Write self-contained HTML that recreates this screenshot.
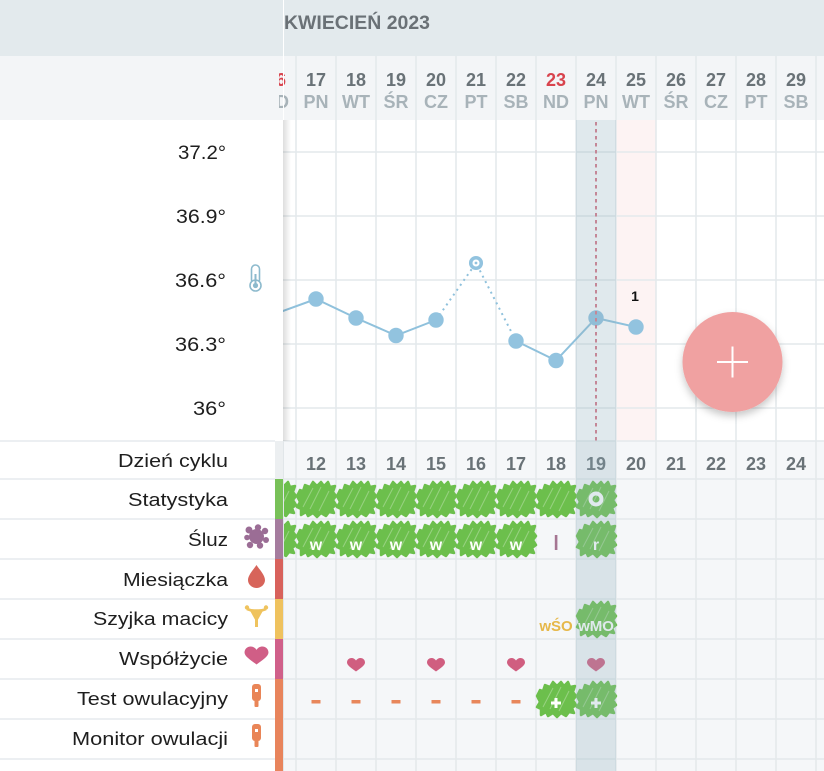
<!DOCTYPE html>
<html><head><meta charset="utf-8">
<style>
html,body{margin:0;padding:0;background:#f5f7f9;}
svg{display:block;font-family:"Liberation Sans",Arial,sans-serif;}
</style></head><body>
<svg width="824" height="771" viewBox="0 0 824 771" xmlns="http://www.w3.org/2000/svg">
<defs>
 <path id="blobp" d="M-19,-3 L-16,-9 L-13,-8 L-11,-14 L-6,-12 L-3,-17 L1,-13 L5,-17 L8,-13 L12,-17 L14,-12 L19,-13 L17,-7 L20,-3 L17,1 L20,6 L16,9 L18,14 L13,13 L10,17 L5,14 L1,18 L-3,14 L-8,17 L-10,13 L-15,16 L-15,10 L-19,8 L-16,3 Z"/>
 <g id="bl">
  <use href="#blobp" fill="#6cbf4c" stroke="#6cbf4c" stroke-width="2.5" stroke-linejoin="round"/>
  <path d="M-13,8 L-3,-11 M-6,10 L5,-12 M3,12 L13,-8" stroke="#ffffff" stroke-opacity=".3" stroke-width="1" fill="none"/>
 </g>
 <path id="heart" d="M0,6 C-4,3 -9,0 -9,-3 C-9,-6 -6.5,-7.5 -4.5,-7.5 C-2.5,-7.5 -1,-6.5 0,-5 C1,-6.5 2.5,-7.5 4.5,-7.5 C6.5,-7.5 9,-6 9,-3 C9,0 4,3 0,6 Z"/>
 <linearGradient id="sh" x1="0" x2="1" y1="0" y2="0">
  <stop offset="0" stop-color="#000" stop-opacity=".13"/>
  <stop offset="1" stop-color="#000" stop-opacity="0"/>
 </linearGradient>
 <filter id="fs" x="-40%" y="-40%" width="180%" height="190%">
  <feDropShadow dx="0" dy="4" stdDeviation="4" flood-color="#000" flood-opacity=".22"/>
 </filter>
</defs>

<!-- backgrounds -->
<rect x="0" y="0" width="824" height="771" fill="#f5f7f9"/>
<rect x="0" y="0" width="824" height="56" fill="#e3eaed"/>
<rect x="0" y="56" width="824" height="64" fill="#f3f5f7"/>
<rect x="283" y="120" width="541" height="321" fill="#ffffff"/>
<rect x="616" y="120" width="40" height="321" fill="#fdf3f3"/>

<!-- grid -->
<g stroke="#e4e9ec" stroke-width="1.6">
 <path d="M296,56V771 M336,56V771 M376,56V771 M416,56V771 M456,56V771 M496,56V771 M536,56V771 M576,56V771 M616,56V771 M656,56V771 M696,56V771 M736,56V771 M776,56V771 M816,56V771"/>
 <path d="M283,152H824 M283,216H824 M283,280H824 M283,344H824 M283,408H824"/>
 <path d="M283,441H824 M283,479H824 M283,519H824 M283,559H824 M283,599H824 M283,639H824 M283,679H824 M283,719H824 M283,759H824"/>
</g>

<!-- month title -->
<text x="284" y="29" font-size="19" font-weight="bold" fill="#6a7176" textLength="146" lengthAdjust="spacingAndGlyphs">KWIECIEŃ 2023</text>

<!-- day header -->
<g font-size="18" font-weight="bold" text-anchor="middle">
 <g fill="#697277">
  <text x="316" y="86">17</text><text x="356" y="86">18</text><text x="396" y="86">19</text>
  <text x="436" y="86">20</text><text x="476" y="86">21</text><text x="516" y="86">22</text>
  <text x="596" y="86">24</text><text x="636" y="86">25</text><text x="676" y="86">26</text>
  <text x="716" y="86">27</text><text x="756" y="86">28</text><text x="796" y="86">29</text>
 </g>
 <g fill="#d8434d">
  <text x="276" y="86">16</text><text x="556" y="86">23</text><text x="836" y="86">30</text>
 </g>
 <g fill="#a8b3b9">
  <text x="276" y="108">ND</text><text x="316" y="108">PN</text><text x="356" y="108">WT</text>
  <text x="396" y="108">ŚR</text><text x="436" y="108">CZ</text><text x="476" y="108">PT</text>
  <text x="516" y="108">SB</text><text x="556" y="108">ND</text><text x="596" y="108">PN</text>
  <text x="636" y="108">WT</text><text x="676" y="108">ŚR</text><text x="716" y="108">CZ</text>
  <text x="756" y="108">PT</text><text x="796" y="108">SB</text><text x="836" y="108">ND</text>
 </g>
</g>
<!-- cover for header left part -->
<rect x="0" y="56" width="279" height="64" fill="#f3f5f7"/>
<rect x="283" y="0" width="1" height="120" fill="#ffffff"/>

<!-- temperature line -->
<g stroke="#8fc1dc" stroke-width="2" fill="none">
 <polyline points="270,315.7 316,299 356,318 396,335.5 436,320"/>
 <polyline points="516,341 556,360.5 596,318 636,327"/>
 <polyline points="436,320 476,263 516,341" stroke-dasharray="2 4"/>
</g>
<g fill="#92c3df">
 <circle cx="316" cy="299" r="7.7"/>
 <circle cx="356" cy="318" r="7.7"/>
 <circle cx="396" cy="335.5" r="7.7"/>
 <circle cx="436" cy="320" r="7.7"/>
 <circle cx="516" cy="341" r="7.7"/>
 <circle cx="556" cy="360.5" r="7.7"/>
 <circle cx="596" cy="318" r="7.7"/>
 <circle cx="636" cy="327" r="7.7"/>
</g>
<circle cx="476" cy="263" r="5.3" fill="#fff" stroke="#92c3df" stroke-width="3.5"/>
<circle cx="476" cy="263" r="1.4" fill="#92c3df"/>

<!-- table content -->
<g>
 <!-- Statystyka row -->
 <use href="#bl" x="276" y="499"/><use href="#bl" x="316" y="499"/><use href="#bl" x="356" y="499"/>
 <use href="#bl" x="396" y="499"/><use href="#bl" x="436" y="499"/><use href="#bl" x="476" y="499"/>
 <use href="#bl" x="516" y="499"/><use href="#bl" x="556" y="499"/><use href="#bl" x="596" y="499"/>
 <circle cx="596" cy="499" r="5.5" fill="none" stroke="#ffffff" stroke-width="4"/>
 <!-- Sluz row -->
 <use href="#bl" x="276" y="539"/><use href="#bl" x="316" y="539"/><use href="#bl" x="356" y="539"/>
 <use href="#bl" x="396" y="539"/><use href="#bl" x="436" y="539"/><use href="#bl" x="476" y="539"/>
 <use href="#bl" x="516" y="539"/><use href="#bl" x="596" y="539"/>
 <g fill="#ffffff" font-size="16" font-weight="bold" text-anchor="middle">
  <text x="316" y="550">w</text><text x="356" y="550">w</text><text x="396" y="550">w</text>
  <text x="436" y="550">w</text><text x="476" y="550">w</text><text x="516" y="550">w</text>
  <text x="596" y="550">r</text>
 </g>
 <rect x="554.8" y="535" width="2.6" height="15" fill="#a57592"/>
 <!-- Szyjka row -->
 <use href="#bl" x="596" y="619"/>
 <text x="556" y="631" font-size="15" font-weight="bold" fill="#e6b84a" text-anchor="middle">wŚO</text>
 <text x="596" y="631" font-size="15" font-weight="bold" fill="#ffffff" text-anchor="middle">wMO</text>
 <!-- Wspolzycie row -->
 <g fill="#d05e80">
  <use href="#heart" x="356" y="665.5"/><use href="#heart" x="436" y="665.5"/>
  <use href="#heart" x="516" y="665.5"/><use href="#heart" x="596" y="665.5"/>
 </g>
 <!-- Test row -->
 <g fill="#e8875b">
  <rect x="311.5" y="700" width="9" height="3.5"/><rect x="351.5" y="700" width="9" height="3.5"/>
  <rect x="391.5" y="700" width="9" height="3.5"/><rect x="431.5" y="700" width="9" height="3.5"/>
  <rect x="471.5" y="700" width="9" height="3.5"/><rect x="511.5" y="700" width="9" height="3.5"/>
 </g>
 <use href="#bl" x="556" y="699"/><use href="#bl" x="596" y="699"/>
 <path d="M551,703H561 M556,698V708 M591,703H601 M596,698V708" stroke="#ffffff" stroke-width="3"/>
 <!-- cycle days -->
 <g font-size="18" font-weight="bold" fill="#697277" text-anchor="middle">
  <text x="316" y="470">12</text><text x="356" y="470">13</text><text x="396" y="470">14</text>
  <text x="436" y="470">15</text><text x="476" y="470">16</text><text x="516" y="470">17</text>
  <text x="556" y="470">18</text><text x="596" y="470">19</text><text x="636" y="470">20</text>
  <text x="676" y="470">21</text><text x="716" y="470">22</text><text x="756" y="470">23</text>
  <text x="796" y="470">24</text>
 </g>
</g>

<!-- shaded selected column -->
<rect x="576" y="120" width="40" height="651" fill="rgb(144,175,190)" fill-opacity=".28"/>
<path d="M596,122V441" stroke="#c48797" stroke-width="2" stroke-dasharray="3.5 3.5"/>
<text x="635" y="301" font-size="14" font-weight="bold" fill="#111" text-anchor="middle">1</text>

<!-- FAB -->
<circle cx="732.5" cy="362" r="50" fill="#f0a1a1" filter="url(#fs)"/>
<path d="M717,362H748 M732.5,346.5V377.5" stroke="#ffffff" stroke-width="2"/>

<!-- left panel -->
<rect x="0" y="120" width="283" height="321" fill="#ffffff"/>
<rect x="283" y="120" width="8" height="321" fill="url(#sh)"/>
<rect x="0" y="441" width="275" height="330" fill="#ffffff"/>
<g stroke="#e6eaed" stroke-width="1.6">
 <path d="M0,441H275 M0,479H275 M0,519H275 M0,559H275 M0,599H275 M0,639H275 M0,679H275 M0,719H275 M0,759H275"/>
</g>
<rect x="275" y="441" width="8" height="38" fill="#eceff1"/>
<rect x="275" y="479" width="8" height="40" fill="#78c158"/>
<rect x="275" y="519" width="8" height="40" fill="#a57c9e"/>
<rect x="275" y="559" width="8" height="40" fill="#d8625c"/>
<rect x="275" y="599" width="8" height="40" fill="#efc25e"/>
<rect x="275" y="639" width="8" height="40" fill="#d0608a"/>
<rect x="275" y="679" width="8" height="92" fill="#e8845c"/>
<rect x="283" y="441" width="1" height="330" fill="#e1e6e9"/>

<!-- y axis labels -->
<g font-size="19" fill="#1e1e1e">
 <text x="178" y="159" textLength="48" lengthAdjust="spacingAndGlyphs">37.2°</text>
 <text x="176" y="223" textLength="50" lengthAdjust="spacingAndGlyphs">36.9°</text>
 <text x="175" y="287" textLength="51" lengthAdjust="spacingAndGlyphs">36.6°</text>
 <text x="175" y="351" textLength="51" lengthAdjust="spacingAndGlyphs">36.3°</text>
 <text x="193" y="415" textLength="33" lengthAdjust="spacingAndGlyphs">36°</text>
</g>
<!-- thermometer -->
<rect x="251.5" y="265" width="8" height="19" rx="4" fill="#fff" stroke="#8dbacd" stroke-width="1.6"/>
<circle cx="255.5" cy="285.5" r="5.5" fill="#fff" stroke="#8dbacd" stroke-width="1.6"/>
<rect x="253.5" y="282" width="4" height="6" fill="#fff"/>
<circle cx="255.5" cy="285.5" r="2.6" fill="#8dbacd"/>
<rect x="254.5" y="274" width="2" height="10" fill="#8dbacd"/>

<!-- row labels -->
<g font-size="18.5" fill="#1e1e1e">
 <text x="118" y="467" textLength="110" lengthAdjust="spacingAndGlyphs">Dzień cyklu</text>
 <text x="128" y="506" textLength="100" lengthAdjust="spacingAndGlyphs">Statystyka</text>
 <text x="188" y="546" textLength="40" lengthAdjust="spacingAndGlyphs">Śluz</text>
 <text x="123" y="586" textLength="105" lengthAdjust="spacingAndGlyphs">Miesiączka</text>
 <text x="93" y="625" textLength="135" lengthAdjust="spacingAndGlyphs">Szyjka macicy</text>
 <text x="119" y="665" textLength="109" lengthAdjust="spacingAndGlyphs">Współżycie</text>
 <text x="77" y="705" textLength="151" lengthAdjust="spacingAndGlyphs">Test owulacyjny</text>
 <text x="72" y="745" textLength="156" lengthAdjust="spacingAndGlyphs">Monitor owulacji</text>
</g>

<!-- row icons -->
<g fill="#9b6d95">
 <circle cx="256.5" cy="536.5" r="7.5"/>
 <circle cx="249" cy="530" r="3.5"/><circle cx="258" cy="527.5" r="3.2"/><circle cx="265" cy="531" r="3.2"/>
 <circle cx="266" cy="540" r="3"/><circle cx="260" cy="545.5" r="3.2"/><circle cx="250" cy="545" r="3.2"/>
 <circle cx="247" cy="537.5" r="2.8"/>
</g>
<path d="M256.5,565 C254,569 248,575 248,580 C248,584.5 252,588 256.5,588 C261,588 265,584.5 265,580 C265,575 259,569 256.5,565 Z" fill="#d7645a"/>
<g fill="#efc35e" stroke="#efc35e">
 <path d="M247,609 Q256.5,613 266,609" fill="none" stroke-width="2.6"/>
 <circle cx="247" cy="607.5" r="2.2" stroke="none"/><circle cx="266" cy="607.5" r="2.2" stroke="none"/>
 <path d="M250.5,610 L262.5,610 L257.5,619 L255.5,619 Z" stroke-width="1.5" stroke-linejoin="round"/>
 <rect x="255" y="618" width="3" height="9" stroke="none"/>
</g>
<use href="#heart" x="256.5" y="656.5" fill="#d05e86" transform="translate(256.5 656.5) scale(1.33) translate(-256.5 -656.5)"/>
<g fill="#e98557">
 <rect x="252" y="684" width="9" height="17" rx="3"/>
 <rect x="254.5" y="699" width="4" height="8" rx="1"/>
 <rect x="252" y="724" width="9" height="17" rx="3"/>
 <rect x="254.5" y="739" width="4" height="8" rx="1"/>
</g>
<g fill="#ffffff">
 <rect x="255" y="689" width="3" height="3"/>
 <rect x="255" y="729" width="3" height="3"/>
</g>
</svg>
</body></html>
